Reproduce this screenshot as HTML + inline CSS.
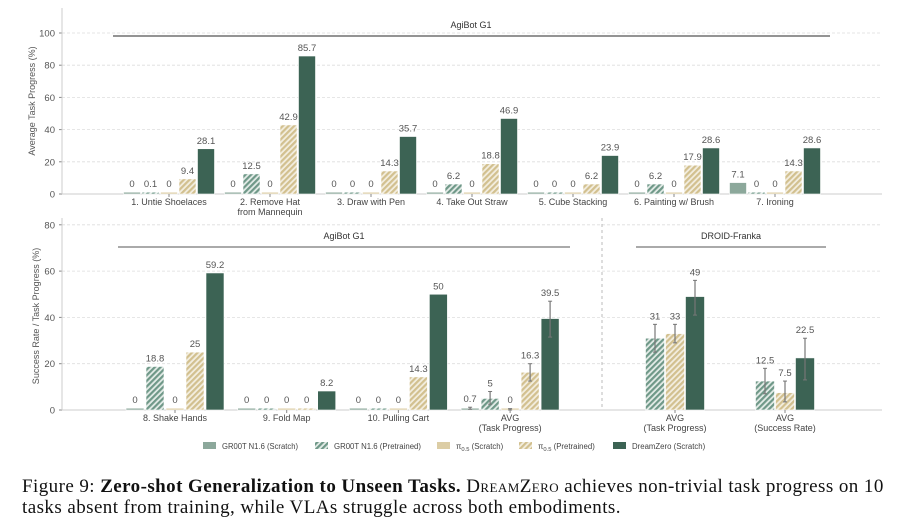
<!DOCTYPE html>
<html><head><meta charset="utf-8"><style>
body{margin:0;background:#fff;width:906px;height:520px;overflow:hidden;font-family:"Liberation Sans",sans-serif}
svg{position:absolute;left:0;top:0}
.cap{position:absolute;left:22px;top:476px;width:884px;font-family:"Liberation Serif",serif;font-size:19px;letter-spacing:0.43px;line-height:21px;color:#111;white-space:nowrap}
.sc{font-variant:small-caps}
</style></head><body>
<svg id="chart" width="906" height="470" xmlns="http://www.w3.org/2000/svg">
<defs>
<pattern id="hg" width="4" height="4" patternUnits="userSpaceOnUse" patternTransform="rotate(45)"><rect width="4" height="4" fill="#e4ece8"/><rect width="2.2" height="4" fill="#6f9888"/></pattern>
<pattern id="hp" width="4" height="4" patternUnits="userSpaceOnUse" patternTransform="rotate(45)"><rect width="4" height="4" fill="#f3eee0"/><rect width="2.2" height="4" fill="#d2c08f"/></pattern>
</defs>
</svg>
<div class="cap">Figure 9: <b>Zero-shot Generalization to Unseen Tasks.</b> <span class="sc">DreamZero</span> achieves non-trivial task progress on 10<br>tasks absent from training, while VLAs struggle across both embodiments.</div>
<script>
const topCats=["1. Untie Shoelaces","2. Remove Hat|from Mannequin","3. Draw with Pen","4. Take Out Straw","5. Cube Stacking","6. Painting w/ Brush","7. Ironing"];
const topGrootS=[0,0,0,0,0,0,7.1];
const topGrootP=[0.1,12.5,0,6.2,0,6.2,0];
const topPiS=[0,0,0,0,0,0,0];
const topPiP=[9.4,42.9,14.3,18.8,6.2,17.9,14.3];
const topDZ=[28.1,85.7,35.7,46.9,23.9,28.6,28.6];
const topTicks=[0,20,40,60,80,100];
const botCats=["8. Shake Hands","9. Fold Map","10. Pulling Cart","AVG|(Task Progress)"];
const botGrootS=[0,0,0,0.7];
const botGrootP=[18.8,0,0,5];
const botPiS=[0,0,0,0];
const botPiP=[25,0,14.3,16.3];
const botDZ=[59.2,8.2,50,39.5];
const botErrLo=[[0,0,0,0.3],[0,0,0,2.5],[0,0,0,0],[0,0,0,12.5],[0,0,0,31.5]];
const botErrHi=[[0,0,0,1.2],[0,0,0,8],[0,0,0,0.6],[0,0,0,20],[0,0,0,47]];
const droidCats=["AVG|(Task Progress)","AVG|(Success Rate)"];
const droidGrootP=[31,12.5];
const droidPiP=[33,7.5];
const droidDZ=[49,22.5];
const droidErrLo=[[25,7],[29,3.5],[41,13]];
const droidErrHi=[[37,18],[37,12.5],[56,31]];
const botTicks=[0,20,40,60,80];

const svg=document.getElementById('chart');
const NS='http://www.w3.org/2000/svg';
function mk(tag,attrs,parent){const e=document.createElementNS(NS,tag);for(const k in attrs)e.setAttribute(k,attrs[k]);(parent||svg).appendChild(e);return e;}
function txt(x,y,s,attrs){const t=mk('text',Object.assign({x:x,y:y,'font-size':9.5,fill:'#555','text-anchor':'middle'},attrs||{}));t.textContent=s;return t;}
const fills=['#8ca89b','url(#hg)','#dccda5','url(#hp)','#3c6354'];
const fmt=v=>String(v);

const xTop=i=>169+101*i;
const yTop=v=>194-1.61*v;
const xBot=i=>175+111.7*i;
const xDroid=i=>675+110*i;
const yBot=v=>410-2.315*v;

// ---------- top panel ----------
let g=mk('g',{});


topTicks.forEach(t=>{
  const l=mk('line',{x1:62,x2:882,y1:yTop(t),y2:yTop(t),stroke:'#ddd','stroke-dasharray':'3,2','stroke-width':0.8},g);
  
  
  const tl=txt(55,yTop(t)+3.5,String(t),{'text-anchor':'end'});
  
  
  mk('line',{x1:59,x2:62,y1:yTop(t),y2:yTop(t),stroke:'#888'},g);
});
mk('line',{x1:62,x2:62,y1:8,y2:194,stroke:'#ccc'},g);
mk('line',{x1:62,x2:882,y1:194,y2:194,stroke:'#ccc'},g);
let yt=txt(35,101,'Average Task Progress (%)',{transform:'rotate(-90 35 101)','font-size':9});


mk('line',{x1:113,x2:830,y1:36,y2:36,stroke:'#555','stroke-width':1.2},g);
let gl=txt(471,28,'AgiBot G1',{'font-size':9,fill:'#333'});


const topSeries=[topGrootS,topGrootP,topPiS,topPiP,topDZ];
topCats.forEach((c,i)=>{
  topSeries.forEach((s,k)=>{
    const v=s[i];const x=xTop(i)+(k-2)*18.5-8.5;
    const h=Math.max(1.8,194-yTop(v));
    const r=mk('rect',{x:x,y:194-h,width:17,height:h,fill:fills[k],stroke:'#fff','stroke-width':0.6},g);
    
    
    const lb=txt(x+8.5,194-h-5,fmt(v));
    
    
  });
  mk('line',{x1:xTop(i),x2:xTop(i),y1:194,y2:197,stroke:'#888'},g);
  c.split('|').forEach((p,j)=>{
    const cl=txt(xTop(i),205+j*10,p,{fill:'#444','font-size':9});
    
    
  });
});

// ---------- bottom panel ----------
g=mk('g',{});


botTicks.forEach(t=>{
  const l=mk('line',{x1:62,x2:882,y1:yBot(t),y2:yBot(t),stroke:'#ddd','stroke-dasharray':'3,2','stroke-width':0.8},g);
  
  
  const tl=txt(55,yBot(t)+3.5,String(t),{'text-anchor':'end'});
  
  
  mk('line',{x1:59,x2:62,y1:yBot(t),y2:yBot(t),stroke:'#888'},g);
});
mk('line',{x1:62,x2:62,y1:218,y2:410,stroke:'#ccc'},g);
mk('line',{x1:62,x2:882,y1:410,y2:410,stroke:'#ccc'},g);
mk('line',{x1:602,x2:602,y1:218,y2:410,stroke:'#bbb','stroke-dasharray':'3,3'},g);
yt=txt(39,316,'Success Rate / Task Progress (%)',{transform:'rotate(-90 39 316)','font-size':9});


mk('line',{x1:118,x2:570,y1:247,y2:247,stroke:'#555','stroke-width':1},g);
gl=txt(344,239,'AgiBot G1',{'font-size':9,fill:'#333'});


mk('line',{x1:636,x2:826,y1:247,y2:247,stroke:'#555','stroke-width':1},g);
gl=txt(731,239,'DROID-Franka',{'font-size':9,fill:'#333'});



function errBar(x,lo,hi){
  if(hi<=lo)return;
  const e=mk('line',{x1:x,x2:x,y1:yBot(lo),y2:yBot(hi),stroke:'#777','stroke-width':1.2},g);
  
  
  mk('line',{x1:x-2,x2:x+2,y1:yBot(lo),y2:yBot(lo),stroke:'#777'},g);
  mk('line',{x1:x-2,x2:x+2,y1:yBot(hi),y2:yBot(hi),stroke:'#777'},g);
}
const botSeries=[botGrootS,botGrootP,botPiS,botPiP,botDZ];
botCats.forEach((c,i)=>{
  botSeries.forEach((s,k)=>{
    const v=s[i];const x=xBot(i)+(k-2)*20-9;
    const h=Math.max(1.8,410-yBot(v));
    const r=mk('rect',{x:x,y:410-h,width:18,height:h,fill:fills[k],stroke:'#fff','stroke-width':0.6},g);
    
    
    errBar(x+9,botErrLo[k][i],botErrHi[k][i]);
    const top=Math.min(410-h,yBot(botErrHi[k][i]));
    const lb=txt(x+9,top-5,fmt(v));
    
    
  });
  mk('line',{x1:xBot(i),x2:xBot(i),y1:410,y2:413,stroke:'#888'},g);
  c.split('|').forEach((p,j)=>{
    const cl=txt(xBot(i),421+j*10,p,{fill:'#444','font-size':9});
    
    
  });
});
const droidSeries=[droidGrootP,droidPiP,droidDZ];
const droidFills=[fills[1],fills[3],fills[4]];
droidCats.forEach((c,i)=>{
  droidSeries.forEach((s,k)=>{
    const v=s[i];const x=xDroid(i)+(k-1)*20-9.5;
    const h=410-yBot(v);
    const r=mk('rect',{x:x,y:410-h,width:19,height:h,fill:droidFills[k],stroke:'#fff','stroke-width':0.6},g);
    
    
    errBar(x+9.5,droidErrLo[k][i],droidErrHi[k][i]);
    const lb=txt(x+9.5,yBot(droidErrHi[k][i])-5,fmt(v));
    
    
  });
  mk('line',{x1:xDroid(i),x2:xDroid(i),y1:410,y2:413,stroke:'#888'},g);
  c.split('|').forEach((p,j)=>{
    const cl=txt(xDroid(i),421+j*10,p,{fill:'#444','font-size':9});
    
    
  });
});

// ---------- legend ----------
const legNames=['GR00T N1.6 (Scratch)','GR00T N1.6 (Pretrained)','π|0.5| (Scratch)','π|0.5| (Pretrained)','DreamZero (Scratch)'];
const legX=[203,315,437,519,613];
const legW=[76,87,0,0,0];
legNames.forEach((n,k)=>{
  const lg=mk('g',{});
  
  
  mk('rect',{x:legX[k],y:442,width:13,height:7,fill:fills[k]},lg);
  const attrs={x:legX[k]+19,y:449,'font-size':7.8,fill:'#444'};
  if(legW[k]){attrs.textLength=legW[k];attrs.lengthAdjust='spacingAndGlyphs';}
  const t=mk('text',attrs,lg);
  const parts=n.split('|');
  if(parts.length===1){t.textContent=n;}
  else{
    const a=mk('tspan',{},t);a.textContent=parts[0];
    const b=mk('tspan',{'font-size':5.8,dy:2},t);b.textContent=parts[1];
    const c=mk('tspan',{dy:-2},t);c.textContent=parts[2];
  }
});
</script>
</body></html>
